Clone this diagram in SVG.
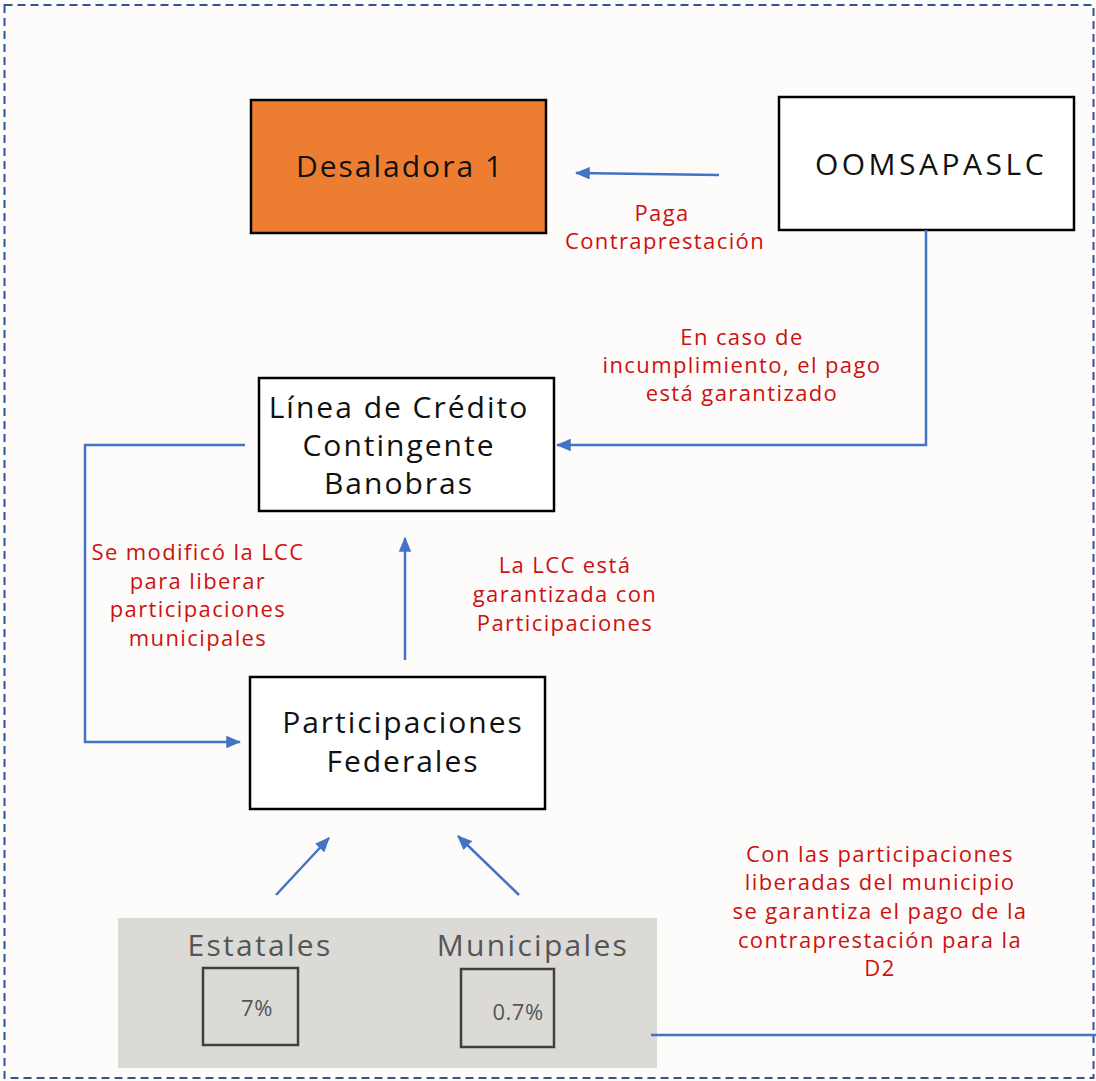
<svg xmlns="http://www.w3.org/2000/svg" width="1096" height="1081" viewBox="0 0 1096 1081">
<defs>
<marker id="ah" viewBox="0 0 12 10" refX="11" refY="5" markerWidth="6" markerHeight="5" markerUnits="strokeWidth" orient="auto">
<path d="M0,0 L12,5 L0,10 z" fill="#4472C4"/>
</marker>
<style>
.box{fill:#fff;stroke:#000;stroke-width:2.5}
.t{font-family:"Open Sans","Noto Sans",sans-serif;font-size:30px;fill:#111;text-anchor:middle;letter-spacing:2px}
.r{font-family:"Open Sans","Noto Sans",sans-serif;font-size:22px;fill:#CC1111;text-anchor:middle;letter-spacing:1.4px}
.g{font-family:"Open Sans","Noto Sans",sans-serif;font-size:30px;fill:#555;text-anchor:middle;letter-spacing:2.3px}
.c{fill:none;stroke:#4472C4;stroke-width:2.5}
.sb{fill:none;stroke:#404040;stroke-width:2.5}
</style>
</defs>
<rect width="1096" height="1081" fill="#fdfcfa"/>
<rect x="4.5" y="5" width="1089" height="1073" fill="none" stroke="#2F5597" stroke-width="2" stroke-dasharray="8,5"/>

<g id="desaladora">
<rect x="251" y="100" width="295" height="133" fill="#ED7D31" stroke="#000" stroke-width="2.5"/>
<text class="t" x="400" y="177">Desaladora 1</text>
</g>
<g id="oomsapaslc">
<rect class="box" x="779" y="97" width="295" height="133"/>
<text class="t" x="931" y="175" style="letter-spacing:3.5px">OOMSAPASLC</text>
</g>
<g id="lcc">
<rect class="box" x="259" y="378" width="295" height="133"/>
<text class="t" x="399" y="418">Línea de Crédito</text>
<text class="t" x="399" y="456">Contingente</text>
<text class="t" x="399" y="494">Banobras</text>
</g>
<g id="participaciones">
<rect class="box" x="250" y="677" width="295" height="132"/>
<text class="t" x="403" y="733">Participaciones</text>
<text class="t" x="403" y="772">Federales</text>
</g>
<g id="fuentes">
<rect x="118" y="918" width="539" height="150" fill="#DCDAD7"/>
<text class="g" x="260" y="956">Estatales</text>
<text class="g" x="533" y="956">Municipales</text>
<rect class="sb" x="203" y="968" width="95" height="77"/>
<text class="g" x="257" y="1016" style="font-size:22px;letter-spacing:0.5px">7%</text>
<rect class="sb" x="461" y="969" width="93" height="78"/>
<text class="g" x="518" y="1020" style="font-size:22px;letter-spacing:0.5px">0.7%</text>
</g>

<g id="connectors">
<line class="c" x1="719" y1="175" x2="576" y2="173" marker-end="url(#ah)"/>
<polyline class="c" points="926,230 926,445 557,445" marker-end="url(#ah)"/>
<polyline class="c" points="245,445 85,445 85,742 240,742" marker-end="url(#ah)"/>
<line class="c" x1="405" y1="660" x2="405" y2="538" marker-end="url(#ah)"/>
<line class="c" x1="276" y1="895" x2="329" y2="838" marker-end="url(#ah)"/>
<line class="c" x1="519" y1="895" x2="458" y2="836" marker-end="url(#ah)"/>
<line class="c" x1="651" y1="1035" x2="1096" y2="1035"/>
</g>

<g id="labels">
<text class="r" x="662" y="221">Paga</text>
<text class="r" x="665" y="249">Contraprestación</text>
<text class="r" x="742" y="345">En caso de</text>
<text class="r" x="742" y="373">incumplimiento, el pago</text>
<text class="r" x="742" y="401">está garantizado</text>
<text class="r" x="198" y="560">Se modificó la LCC</text>
<text class="r" x="198" y="589">para liberar</text>
<text class="r" x="198" y="617">participaciones</text>
<text class="r" x="198" y="646">municipales</text>
<text class="r" x="565" y="573">La LCC está</text>
<text class="r" x="565" y="602">garantizada con</text>
<text class="r" x="565" y="631">Participaciones</text>
<text class="r" x="880" y="862">Con las participaciones</text>
<text class="r" x="880" y="890">liberadas del municipio</text>
<text class="r" x="880" y="919">se garantiza el pago de la</text>
<text class="r" x="880" y="948">contraprestación para la</text>
<text class="r" x="880" y="976">D2</text>
</g>
</svg>
